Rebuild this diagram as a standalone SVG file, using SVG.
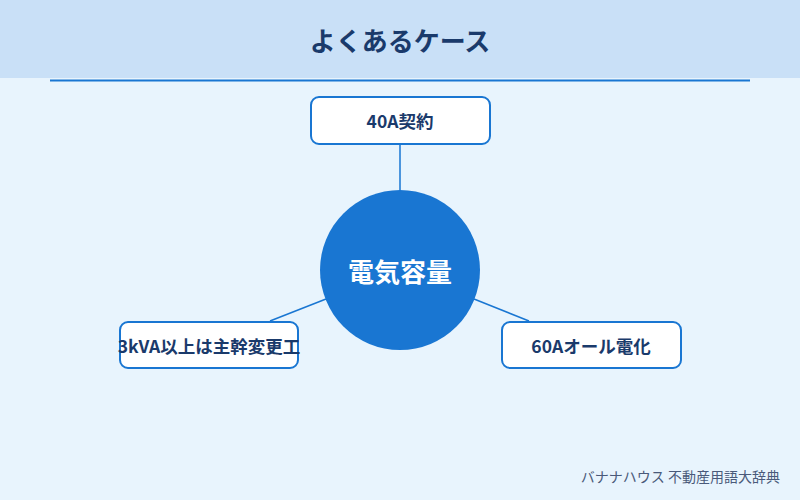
<svg xmlns="http://www.w3.org/2000/svg" width="800" height="500" viewBox="0 0 800 500">
<style>
.t{font-family:"Noto Sans CJK JP","Noto Sans",sans-serif;font-weight:bold;fill:#1a3a6b;text-anchor:middle;dominant-baseline:central}
.box{fill:#ffffff;stroke:#1976d2;stroke-width:2}
.ln{stroke:#1976d2;stroke-width:1.5;fill:none}
</style>
<rect x="0" y="0" width="800" height="500" fill="#e8f4fd"/>
<rect x="0" y="0" width="800" height="78" fill="#c9e0f7"/>
<text class="t" x="400" y="39" font-size="26">よくあるケース</text>
<line x1="50" y1="80.5" x2="750" y2="80.5" stroke="#1976d2" stroke-width="2"/>
<g id="connectors">
<line class="ln" x1="400" y1="144" x2="400" y2="190"/>
<line class="ln" x1="326" y1="299" x2="270" y2="321"/>
<line class="ln" x1="474" y1="299" x2="529" y2="321"/>
</g>
<g id="center">
<circle cx="400" cy="270" r="80" fill="#1976d2"/>
<text class="t" x="400" y="270" font-size="26" style="fill:#ffffff">電気容量</text>
</g>
<g id="n40a">
<rect class="box" x="311" y="97" width="179" height="47" rx="8"/>
<text class="t" x="400" y="120.5" font-size="17.5">40A契約</text>
</g>
<g id="n3kva">
<rect class="box" x="120" y="322" width="178" height="46" rx="8"/>
<text class="t" x="209" y="345" font-size="17.5">3kVA以上は主幹変更工</text>
</g>
<g id="n60a">
<rect class="box" x="502" y="322" width="179" height="46" rx="8"/>
<text class="t" x="591" y="345" font-size="17.5">60Aオール電化</text>
</g>
<text x="780" y="482" font-size="14" font-family="'Noto Sans CJK JP','Noto Sans',sans-serif" fill="#4a5a7a" text-anchor="end">バナナハウス 不動産用語大辞典</text>
</svg>
